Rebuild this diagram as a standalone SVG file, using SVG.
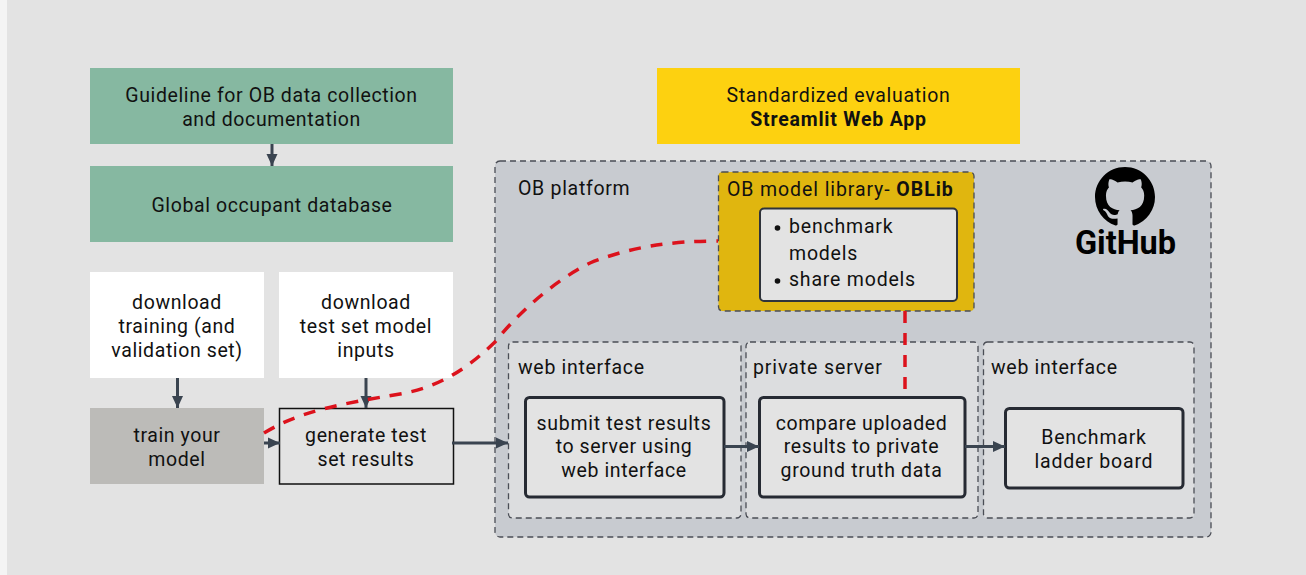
<svg xmlns="http://www.w3.org/2000/svg" width="1306" height="575" viewBox="0 0 1306 575">
<style>
text{font-family:"Roboto","Noto Sans","Liberation Sans",sans-serif;font-size:19.5px;fill:#111;text-anchor:middle;letter-spacing:.6px}
.l{text-anchor:start}
.b{font-weight:700;letter-spacing:.8px}
.g{fill:#86b8a1}
.w{fill:#fff}
.dash{stroke:#4a4d55;stroke-width:1.3;stroke-dasharray:6 4}
.panel{fill:#dcdddf}
.box{fill:#e3e3e3;stroke:#262a33;stroke-width:3}
.c{fill:none;stroke:#3a4450;stroke-width:3}
.r{fill:none;stroke:#dc121c;stroke-width:3.500;stroke-dasharray:12 10}
</style>
<defs><marker id="a" markerUnits="userSpaceOnUse" markerWidth="14" markerHeight="12" refX="13" refY="6" orient="auto"><path d="M1 .5L13 6L1 11.500z" fill="#3a4450"/></marker></defs>
<rect x="0" y="0" width="1306" height="575" fill="#f4f4f4"/>
<rect x="7" y="0" width="1299" height="575" fill="#e3e3e3"/>
<g id="guideline"><rect class="g" x="90" y="68" width="363" height="76"/><text x="271.500" y="102">Guideline for OB data collection</text><text x="271.500" y="126">and documentation</text></g>
<g id="database"><rect class="g" x="90" y="166" width="363" height="76"/><text x="272" y="212">Global occupant database</text></g>
<g id="download-training"><rect class="w" x="90" y="272" width="174" height="106"/><text x="177" y="309">download</text><text x="177" y="333">training (and</text><text x="177" y="357">validation set)</text></g>
<g id="download-inputs"><rect class="w" x="279" y="272" width="174" height="106"/><text x="366" y="309">download</text><text x="366" y="333">test set model</text><text x="366" y="357">inputs</text></g>
<g id="train"><rect x="90" y="408" width="174" height="76" fill="#bcbbb8"/><text x="177" y="442">train your</text><text x="177" y="466">model</text></g>
<g id="generate"><rect x="279.500" y="408.500" width="174" height="75.500" fill="#e3e3e3" stroke="#111" stroke-width="1.500"/><text x="366" y="442">generate test</text><text x="366" y="466">set results</text></g>
<g id="evaluation"><rect x="657" y="68" width="363" height="76" fill="#fdd110"/><text x="838.500" y="102" style="letter-spacing:.7px">Standardized evaluation</text><text class="b" x="838.500" y="126">Streamlit Web App</text></g>
<g id="platform"><rect class="dash" x="495" y="161" width="716" height="376" rx="5" fill="#c8cbd0"/><text class="l" x="518" y="195" style="letter-spacing:.7px">OB platform</text></g>
<g id="github"><path transform="translate(1095 167) scale(3.75)" fill="#000" d="M8 0C3.58 0 0 3.58 0 8c0 3.54 2.29 6.53 5.47 7.59.4.07.55-.17.55-.38 0-.19-.01-.82-.01-1.49-2.01.37-2.53-.49-2.69-.94-.09-.23-.48-.94-.82-1.13-.28-.15-.68-.52-.01-.53.63-.01 1.08.58 1.23.82.72 1.21 1.87.87 2.33.66.07-.52.28-.87.51-1.07-1.78-.2-3.64-.89-3.64-3.95 0-.87.31-1.59.82-2.15-.08-.2-.36-1.02.08-2.12 0 0 .67-.21 2.2.82.64-.18 1.32-.27 2-.27.68 0 1.36.09 2 .27 1.53-1.04 2.2-.82 2.2-.82.44 1.1.16 1.92.08 2.12.51.56.82 1.27.82 2.15 0 3.07-1.87 3.75-3.65 3.95.29.25.54.73.54 1.48 0 1.07-.01 1.93-.01 2.2 0 .21.15.46.55.38A8.013 8.013 0 0016 8c0-4.42-3.58-8-8-8z"/><text class="b" x="1125.500" y="254" style="font-size:32.500px;fill:#000;letter-spacing:0">GitHub</text></g>
<g id="oblib"><rect class="dash" x="718.500" y="172" width="255.500" height="139" rx="4" fill="#e0b60f"/><text class="l" x="727" y="196" style="letter-spacing:.9px">OB model library- <tspan class="b" style="letter-spacing:1px">OBLib</tspan></text></g>
<g id="oblib-list"><rect x="760" y="208.500" width="197" height="92.500" rx="4" fill="#e3e3e3" stroke="#2f333b" stroke-width="2"/><circle cx="777.500" cy="228" r="2.800" fill="#111"/><text class="l" x="789" y="233" style="letter-spacing:.8px">benchmark</text><text class="l" x="789" y="260" style="letter-spacing:.8px">models</text><circle cx="777.500" cy="281" r="2.800" fill="#111"/><text class="l" x="789" y="286" style="letter-spacing:.8px">share models</text></g>
<g id="panel-web-1"><rect class="panel dash" x="508.500" y="342" width="232.500" height="176" rx="4"/><text class="l" x="518" y="374" style="letter-spacing:.7px">web interface</text></g>
<g id="panel-private"><rect class="panel dash" x="746" y="342" width="232" height="176" rx="4"/><text class="l" x="753" y="374" style="letter-spacing:.9px">private server</text></g>
<g id="panel-web-2"><rect class="panel dash" x="983.500" y="342" width="210.500" height="176" rx="4"/><text class="l" x="991" y="374" style="letter-spacing:.7px">web interface</text></g>
<g id="submit"><rect class="box" x="525.500" y="397.500" width="198.500" height="99.500" rx="4"/><text x="624" y="430" style="letter-spacing:.7px">submit test results</text><text x="624" y="453">to server using</text><text x="624" y="477">web interface</text></g>
<g id="compare"><rect class="box" x="759.500" y="397.500" width="205.500" height="99.500" rx="4"/><text x="861.500" y="430">compare uploaded</text><text x="861.500" y="453">results to private</text><text x="861.500" y="477" style="letter-spacing:.7px">ground truth data</text></g>
<g id="ladder"><rect class="box" x="1005.500" y="408.500" width="177.500" height="79.500" rx="4"/><text x="1094" y="444" style="letter-spacing:.8px">Benchmark</text><text x="1094" y="468" style="letter-spacing:.8px">ladder board</text></g>
<g id="connectors">
<path class="c" marker-end="url(#a)" d="M272 144V166"/>
<path class="c" marker-end="url(#a)" d="M177.500 378V408"/>
<path class="c" marker-end="url(#a)" d="M366 378V408"/>
<path class="c" marker-end="url(#a)" d="M264 443H280"/>
<path class="c" marker-end="url(#a)" d="M452 443H508"/>
<path class="c" marker-end="url(#a)" d="M724 446.500H759"/>
<path class="c" marker-end="url(#a)" d="M965 446.500H1005"/>
<path class="r" d="M264 433C300 411 340 404 400 394C440 387 468 368 495 342C515 317 550 283 590 263C630 247 670 241 718 241"/>
<path class="r" d="M905 311V397"/>
</g>
</svg>
